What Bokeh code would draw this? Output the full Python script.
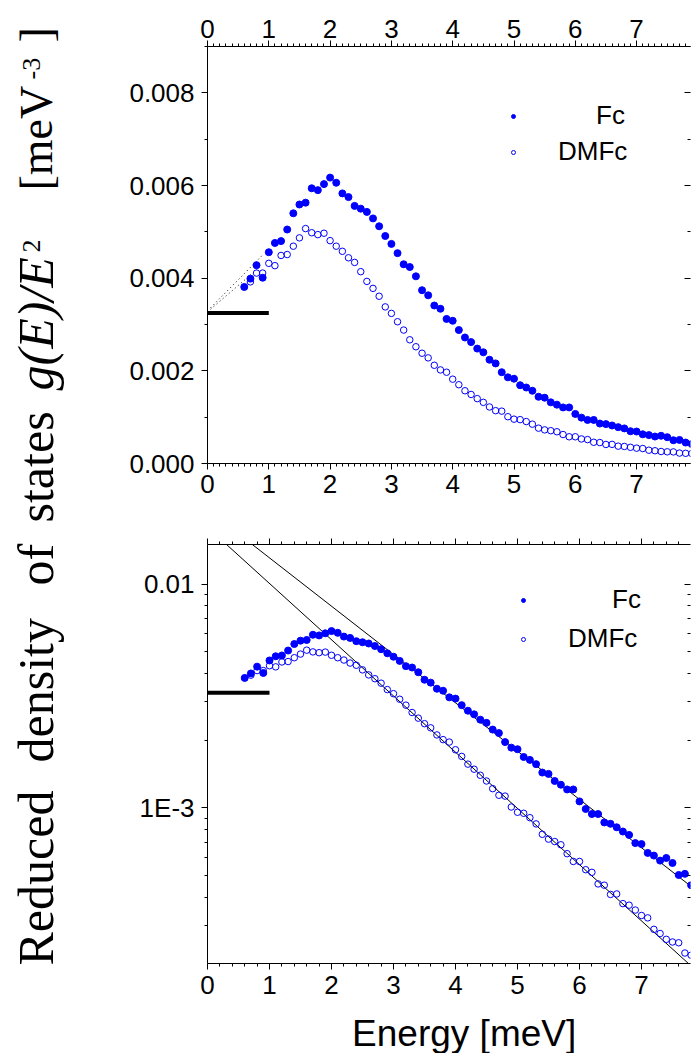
import math
import numpy as np
from bokeh.plotting import figure
from bokeh.models import (Range1d, LinearAxis, LogAxis, FixedTicker, PrintfTickFormatter,
                          CustomJSTickFormatter, Legend, LegendItem, Label)
from bokeh.layouts import row, column
from bokeh.embed import file_html
from bokeh.resources import INLINE

# ---------------- data ----------------
energy_fc = [0.6, 0.7, 0.8, 0.9, 1.0, 1.1, 1.2, 1.3, 1.4, 1.5, 1.6, 1.7, 1.8, 1.9,
             2.0, 2.1, 2.2, 2.3, 2.4, 2.5, 2.6, 2.7, 2.8, 2.9, 3.0, 3.1, 3.2, 3.3,
             3.4, 3.5, 3.6, 3.7, 3.8, 3.9, 4.0, 4.1, 4.2, 4.3, 4.4, 4.5, 4.6, 4.7,
             4.8, 4.9, 5.0, 5.1, 5.2, 5.3, 5.4, 5.5, 5.6, 5.7, 5.8, 5.9, 6.0, 6.1,
             6.2, 6.3, 6.4, 6.5, 6.6, 6.7, 6.8, 6.9, 7.0, 7.1, 7.2, 7.3, 7.4, 7.5,
             7.6, 7.7, 7.8, 7.9]
fc = [0.00381, 0.00399, 0.00428, 0.00401, 0.00456, 0.00476, 0.00480, 0.00505,
      0.00540, 0.00559, 0.00563, 0.00594, 0.00590, 0.00603, 0.00617, 0.00606,
      0.00583, 0.00575, 0.00556, 0.00550, 0.00543, 0.00529, 0.00512, 0.00491,
      0.00474, 0.00454, 0.00430, 0.00424, 0.00404, 0.00374, 0.00363, 0.00341,
      0.00334, 0.00312, 0.00308, 0.00288, 0.00272, 0.00262, 0.00248, 0.00240,
      0.00224, 0.00216, 0.00197, 0.00186, 0.00183, 0.00169, 0.00164, 0.00157,
      0.00144, 0.00142, 0.00132, 0.00127, 0.00121, 0.00121, 0.00107, 0.000990,
      0.000940, 0.000940, 0.000862, 0.000850, 0.000820, 0.000785, 0.000758,
      0.000697, 0.000690, 0.000630, 0.000613, 0.000582, 0.000598, 0.000568,
      0.000502, 0.000508, 0.000452, 0.000420]

energy_dmfc = [0.7, 0.8, 0.9, 1.0, 1.1, 1.2, 1.3, 1.4, 1.5, 1.6, 1.7, 1.8, 1.9,
               2.0, 2.1, 2.2, 2.3, 2.4, 2.5, 2.6, 2.7, 2.8, 2.9, 3.0, 3.1, 3.2, 3.3,
               3.4, 3.5, 3.6, 3.7, 3.8, 3.9, 4.0, 4.1, 4.2, 4.3, 4.4, 4.5, 4.6, 4.7,
               4.8, 4.9, 5.0, 5.1, 5.2, 5.3, 5.4, 5.5, 5.6, 5.7, 5.8, 5.9, 6.0, 6.1,
               6.2, 6.3, 6.4, 6.5, 6.6, 6.7, 6.8, 6.9, 7.0, 7.1, 7.2, 7.3, 7.4, 7.5,
               7.6, 7.7, 7.8, 7.9]
dmfc = [0.00392, 0.00411, 0.00411, 0.00432, 0.00427, 0.00449, 0.00451, 0.00469,
        0.00487, 0.00507, 0.00498, 0.00494, 0.00497, 0.00481, 0.00469, 0.00458,
        0.00444, 0.00434, 0.00414, 0.00393, 0.00378, 0.00361, 0.00338, 0.00324,
        0.00306, 0.00288, 0.00267, 0.00252, 0.00238, 0.00228, 0.00212, 0.00202,
        0.00197, 0.00182, 0.00170, 0.00157, 0.00149, 0.00140, 0.00132, 0.00122,
        0.00114, 0.00113, 0.00101, 0.000957, 0.000947, 0.000905, 0.000849,
        0.000763, 0.000726, 0.000708, 0.000685, 0.000625, 0.000577, 0.000577,
        0.000530, 0.000516, 0.000458, 0.000452, 0.000411, 0.000413, 0.000374,
        0.000368, 0.000350, 0.000331, 0.000323, 0.000287, 0.000275, 0.000259,
        0.000252, 0.000250, 0.000225, 0.000220, 0.000215]

# Debye level (thick bar) and low-energy extrapolations (dotted)
debye_bar_e = [0.0, 1.0]
debye_bar_top = [0.00325, 0.00325]
debye_bar_log = [0.00327, 0.00327]
extrap_e_fc = [0.05, 0.90]
extrap_fc = [0.00336, 0.00450]
extrap_e_dmfc = [0.05, 0.80]
extrap_dmfc = [0.00333, 0.00418]

# exponential fits in log panel: log10(y) = a + b*E
fit_e = [0.0, 8.0]
fit_fc = (-1.667, -0.2158)
fit_dmfc = (-1.746, -0.2512)

x_ticks = [0, 1, 2, 3, 4, 5, 6, 7]
y_ticks_lin = [0.000, 0.002, 0.004, 0.006, 0.008]
y_ticks_log = [0.001, 0.01]

# ---------------- style ----------------
FONT = "Liberation Sans"
SERIF = "Liberation Serif"
BLUE = "#0000FF"
TICK_FS = "26px"
blank_fmt = CustomJSTickFormatter(code="return '';")


def style_axis(ax, labels=True, inward=False, standoff=3):
    ax.axis_line_color = "black"
    ax.axis_line_width = 1
    ax.major_tick_line_color = "black"
    ax.minor_tick_line_color = "black"
    if inward:
        ax.major_tick_in, ax.major_tick_out = 6, 0
        ax.minor_tick_in, ax.minor_tick_out = 3, 0
    else:
        ax.major_tick_in, ax.major_tick_out = 0, 6
        ax.minor_tick_in, ax.minor_tick_out = 0, 3
    ax.major_label_text_font = FONT
    ax.major_label_text_color = "black"
    if labels:
        ax.major_label_text_font_size = TICK_FS
        ax.major_label_standoff = standoff
    else:
        ax.formatter = blank_fmt
        ax.major_label_text_font_size = "1px"
        ax.major_label_standoff = 0


def base_fig(**kw):
    p = figure(output_backend="svg", toolbar_location=None,
               x_axis_location=None, y_axis_location=None,
               outline_line_color=None, **kw)
    p.grid.visible = False
    return p


FRAME_W = 483
LEFT_B = 113
RIGHT_B = 2
X_TOP_MAX = FRAME_W / 61.3
X_BOT_MAX = FRAME_W / 62.0

# ---------------- top (linear) panel ----------------
top = base_fig(frame_width=FRAME_W, frame_height=417,
               x_range=Range1d(0, X_TOP_MAX), y_range=Range1d(0, 0.009),
               min_border_left=LEFT_B, min_border_right=RIGHT_B,
               min_border_top=46, min_border_bottom=40)

x_minor_top = [i / 10 for i in range(1, 80) if i % 10 != 0]
y_minor_top = [0.001, 0.003, 0.005, 0.007, 0.009]

xa = LinearAxis(ticker=FixedTicker(ticks=x_ticks, minor_ticks=x_minor_top))
style_axis(xa, standoff=5)
top.add_layout(xa, "below")
xa2 = LinearAxis(ticker=FixedTicker(ticks=x_ticks, minor_ticks=x_minor_top))
style_axis(xa2, standoff=3)
top.add_layout(xa2, "above")

yl = LinearAxis(ticker=FixedTicker(ticks=y_ticks_lin, minor_ticks=y_minor_top),
                formatter=PrintfTickFormatter(format="%.3f"))
style_axis(yl, standoff=7)
top.add_layout(yl, "left")
yr = LinearAxis(ticker=FixedTicker(ticks=y_ticks_lin, minor_ticks=y_minor_top))
style_axis(yr, labels=False, inward=True)
yr.axis_line_color = None
top.add_layout(yr, "right")

top.line(extrap_e_fc, extrap_fc, line_color="black", line_width=1, line_dash="1 3")
top.line(extrap_e_dmfc, extrap_dmfc, line_color="black", line_width=1, line_dash="1 3")
top.line(debye_bar_e, debye_bar_top, line_color="black", line_width=4)
r_dm_t = top.scatter(energy_dmfc, dmfc, marker="circle", size=6.5,
                     fill_color=None, line_color=BLUE, line_width=1)
r_fc_t = top.scatter(energy_fc, fc, marker="circle", size=7,
                     fill_color=BLUE, line_color=BLUE)


def add_legend(p, renderer, text, loc, standoff):
    lg = Legend(items=[LegendItem(label=text, renderers=[renderer])],
                location=loc, border_line_color=None, background_fill_alpha=0,
                padding=0, margin=0, spacing=0,
                glyph_width=10, glyph_height=30, label_height=30,
                label_standoff=standoff, label_text_font=FONT,
                label_text_font_size="26px", label_text_color="black")
    p.add_layout(lg)


add_legend(top, r_fc_t, "Fc", (301, 332), 78)
add_legend(top, r_dm_t, "DMFc", (301, 296), 40)

# ---------------- bottom (log) panel ----------------
bot = base_fig(frame_width=FRAME_W, frame_height=419, y_axis_type="log",
               x_range=Range1d(0, X_BOT_MAX), y_range=Range1d(2.02e-4, 1.503e-2),
               min_border_left=LEFT_B, min_border_right=RIGHT_B,
               min_border_top=41, min_border_bottom=40)

x_minor_bot = [i / 5 for i in range(1, 40) if i % 5 != 0]
y_minor_log = [k * 1e-4 for k in range(2, 10)] + [k * 1e-3 for k in range(2, 10)]

xb = LinearAxis(ticker=FixedTicker(ticks=x_ticks, minor_ticks=x_minor_bot))
style_axis(xb, standoff=6)
bot.add_layout(xb, "below")
xt = LinearAxis(ticker=FixedTicker(ticks=x_ticks, minor_ticks=x_minor_bot))
style_axis(xt, labels=False)
bot.add_layout(xt, "above")

log_fmt = CustomJSTickFormatter(code="return tick > 0.005 ? '0.01' : '1E-3';")
ylb = LogAxis(ticker=FixedTicker(ticks=y_ticks_log, minor_ticks=y_minor_log),
              formatter=log_fmt)
style_axis(ylb, standoff=7)
bot.add_layout(ylb, "left")
yrb = LogAxis(ticker=FixedTicker(ticks=y_ticks_log, minor_ticks=y_minor_log))
style_axis(yrb, labels=False, inward=True)
yrb.axis_line_color = None
bot.add_layout(yrb, "right")

fe = np.array(fit_e)
bot.line(fe, 10 ** (fit_fc[0] + fit_fc[1] * fe), line_color="black", line_width=1)
bot.line(fe, 10 ** (fit_dmfc[0] + fit_dmfc[1] * fe), line_color="black", line_width=1)
bot.line(debye_bar_e, debye_bar_log, line_color="black", line_width=4)
r_dm_b = bot.scatter(energy_dmfc, dmfc, marker="circle", size=6.5,
                     fill_color=None, line_color=BLUE, line_width=1)
r_fc_b = bot.scatter(energy_fc, fc, marker="circle", size=7,
                     fill_color=BLUE, line_color=BLUE)

add_legend(bot, r_fc_b, "Fc", (311, 348), 84)
add_legend(bot, r_dm_b, "DMFc", (311, 309), 40)

# ---------------- x-axis title strip (same frame as the panels) ----------------
XL_H = 50
xl = base_fig(frame_width=FRAME_W, frame_height=XL_H,
              x_range=Range1d(0, X_BOT_MAX), y_range=Range1d(0, XL_H),
              min_border_left=LEFT_B, min_border_right=RIGHT_B,
              min_border_top=0, min_border_bottom=0)
xl.background_fill_color = None
xl.border_fill_color = None
xl.add_layout(Label(x=4.14, y=20.5, text="Energy [meV]", text_font=FONT,
                    text_font_size="37px", text_align="center",
                    text_baseline="alphabetic", text_color="black"))

# ---------------- rotated y-axis title ----------------
LAB_W, LAB_H = 94, 1053
lab = base_fig(width=LAB_W, height=LAB_H, x_range=Range1d(0, LAB_W),
               y_range=Range1d(0, LAB_H), min_border=0)
lab.background_fill_color = None
lab.border_fill_color = None


def page_y(py):
    return LAB_H - py


title_parts = [
    # text, x (px), start (page y), size, style
    ("Reduced", 35.5, 965, "50px", "normal"),
    ("density", 35.5, 762, "50px", "normal"),
    ("of", 35.5, 585, "50px", "normal"),
    ("states", 35.5, 522, "50px", "normal"),
    ("g(E)/E", 35.5, 390, "50px", "italic"),
    ("2", 31, 252, "26px", "normal"),
    ("[meV", 35.5, 190, "46px", "normal"),
    ("-3", 31, 79, "26px", "normal"),
    ("]", 35.5, 42, "46px", "normal"),
]
for txt, bx, sy, fs, st in title_parts:
    lab.add_layout(Label(x=bx, y=page_y(sy), text=txt, angle=math.pi / 2,
                         text_font=SERIF, text_font_size=fs, text_font_style=st,
                         text_align="left", text_baseline="alphabetic",
                         text_color="black"))

layout = row(lab, column(top, bot, xl))
open("out.html", "w").write(file_html(layout, INLINE))
